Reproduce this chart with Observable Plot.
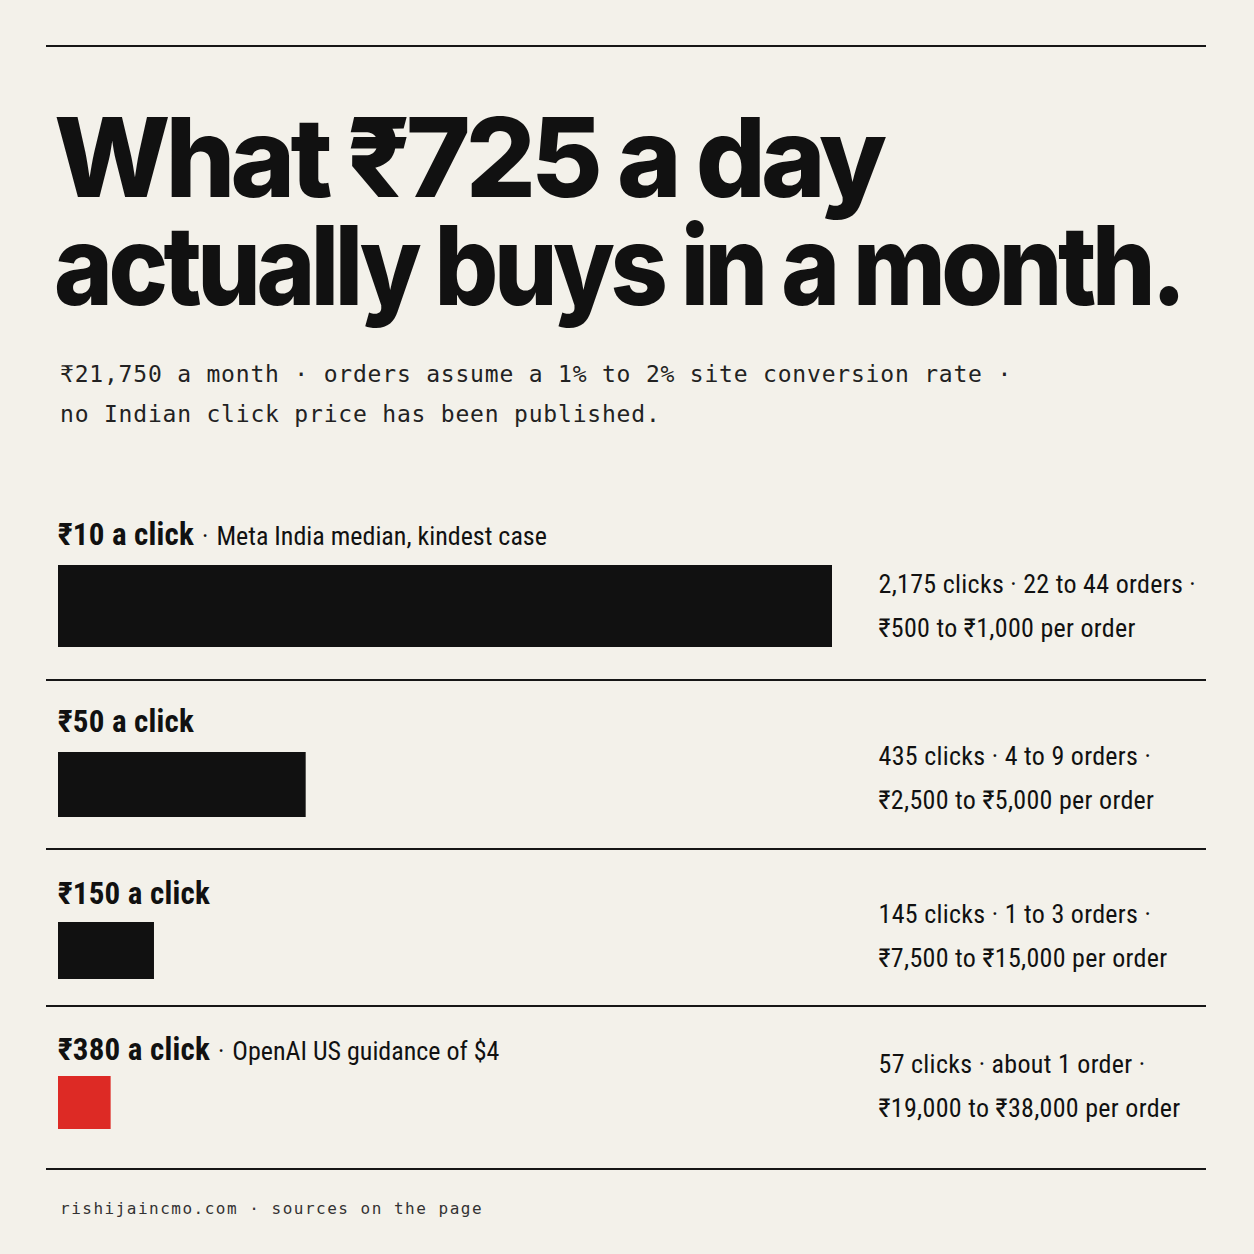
<!DOCTYPE html>
<html><head><meta charset="utf-8">
<script src="https://cdn.jsdelivr.net/npm/d3@7"></script>
<script src="https://cdn.jsdelivr.net/npm/@observablehq/plot@0.6"></script>
<style>
html,body{margin:0;padding:0;background:#f3f1ea;}
#page{position:relative;width:1254px;height:1254px;background:#f3f1ea;overflow:hidden;color:#111;}
.rule{position:absolute;left:46px;width:1160px;height:2px;background:#161616;}
.tline{position:absolute;left:54px;font-family:Inter,"Noto Sans",sans-serif;font-weight:800;font-size:110px;line-height:100px;height:100px;letter-spacing:-0.045em;color:#111;white-space:nowrap;width:max-content;transform-origin:0 50%;}
#subtitle{position:absolute;left:60px;top:354px;font-family:"DejaVu Sans Mono",monospace;font-size:23px;line-height:40px;letter-spacing:0.8px;color:#222;white-space:nowrap;}
.row{position:absolute;left:0;width:1254px;}
.row svg{position:absolute;left:0;top:0;}
.label{position:absolute;left:58px;line-height:36px;white-space:nowrap;font-family:"Roboto Condensed","Liberation Sans Narrow","DejaVu Sans Condensed",Roboto,sans-serif;color:#111;}
.label b{font-weight:700;font-size:31px;letter-spacing:0.2px;}
.label span{font-weight:400;font-size:26px;}
.label .sep{margin:0 8px 0 8px;}
#footer{position:absolute;left:60px;top:1199px;font-family:"DejaVu Sans Mono",monospace;font-size:16px;letter-spacing:1.5px;color:#333;white-space:nowrap;}
</style></head>
<body><div id="page">
<div class="rule" style="top:45px"></div>
<div class="tline" style="top:107px" data-w="828">What ₹725 a day</div>
<div class="tline" style="top:215px" data-w="1128">actually buys in a month.</div>
<div id="subtitle">₹21,750 a month · orders assume a 1% to 2% site conversion rate ·<br>no Indian click price has been published.</div>
<div id="rows"></div>
<div class="rule" style="top:1168px"></div>
<div id="footer">rishijaincmo.com · sources on the page</div>
</div>
<script>
// ---- data ----
const pricePerClick = [10, 50, 150, 380];              // ₹ per click
const clickLabels   = ["₹10 a click", "₹50 a click", "₹150 a click", "₹380 a click"];
const notes         = ["Meta India median, kindest case", "", "", "OpenAI US guidance of $4"];
const clicks        = ["2,175", "435", "145", "57"];
const orders        = ["22 to 44 orders", "4 to 9 orders", "1 to 3 orders", "about 1 order"];
const perOrder      = ["₹500 to ₹1,000 per order", "₹2,500 to ₹5,000 per order", "₹7,500 to ₹15,000 per order", "₹19,000 to ₹38,000 per order"];
const barShare      = [1, 0.32, 0.124, 0.068];         // bar length relative to the longest bar

const rows = pricePerClick.map((p, i) => ({
  price: p, label: clickLabels[i], note: notes[i], share: barShare[i],
  detail: `${clicks[i]} clicks · ${orders[i]} ·\n${perOrder[i]}`
}));

// ---- layout (not data) ----
const layout = [
  {top: 467, h: 213, mt: 98, mb: 33, labelTop: 517, dy: -6},
  {top: 679, h: 170, mt: 73, mb: 32, labelTop: 704, dy: -12},
  {top: 848, h: 158, mt: 74, mb: 27, labelTop: 876, dy: -20},
  {top: 1005, h: 164, mt: 71, mb: 40, labelTop: 1032, dy: -22}
];
const highlight = 380;
const condensed = '"Roboto Condensed","Liberation Sans Narrow","DejaVu Sans Condensed",Roboto,sans-serif';

const container = document.getElementById("rows");
rows.forEach((d, i) => {
  const L = layout[i];
  const row = document.createElement("div");
  row.className = "row";
  row.style.top = L.top + "px";
  row.style.height = L.h + "px";
  if (i > 0) {
    const rule = document.createElement("div");
    rule.className = "rule";
    rule.style.top = "0px";
    row.appendChild(rule);
  }

  const chart = Plot.plot({
    width: 1254, height: L.h,
    marginLeft: 58, marginRight: 422, marginTop: L.mt, marginBottom: L.mb,
    x: {domain: [0, 1], axis: null},
    y: {domain: [d.label], axis: null, padding: 0},
    style: {background: "transparent", overflow: "visible"},
    marks: [
      Plot.barX([d], {x: "share", y: "label", insetTop: 0, insetBottom: 0,
        fill: r => r.price === highlight ? "#dd2a25" : "#111111"}),
      Plot.text([d], {x: () => 1, y: "label", text: "detail", textAnchor: "start",
        dx: 46, dy: L.dy, fontSize: 26, lineHeight: 1.69, fill: "#111",
        fontFamily: condensed})
    ]
  });
  chart.querySelectorAll("text").forEach(t => t.style.letterSpacing = "0.3px");
  row.appendChild(chart);

  const lab = document.createElement("div");
  lab.className = "label";
  lab.style.top = (L.labelTop - L.top) + "px";
  lab.innerHTML = `<b>${d.label}</b>` + (d.note ? `<span class="sep">·</span><span>${d.note}</span>` : "");
  row.appendChild(lab);
  container.appendChild(row);
});

// fit the headline lines to the widths they take in the reference
document.querySelectorAll(".tline").forEach(el => {
  const w = el.getBoundingClientRect().width;
  const target = +el.dataset.w;
  el.style.transform = `scaleX(${target / w})`;
});
</script>
</body></html>
